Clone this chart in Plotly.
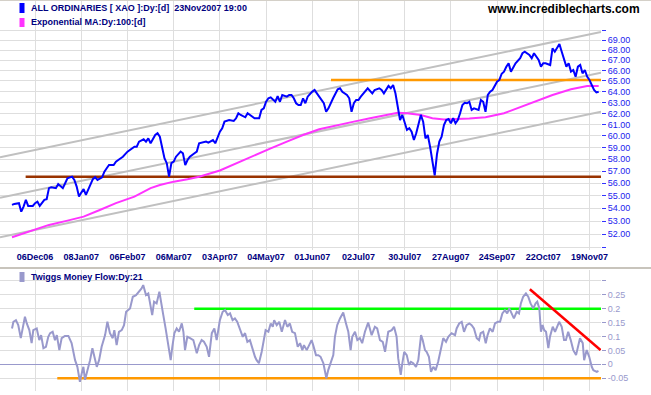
import plotly.graph_objects as go

# ---------------- data ----------------
# x axis = trading-day index; labelled every 20 trading days
tick_days = [10, 30, 50, 70, 90, 110, 130, 150, 170, 190, 210, 230, 250]
tick_labels = ["06Dec06", "08Jan07", "06Feb07", "06Mar07", "03Apr07", "04May07", "01Jun07",
               "02Jul07", "30Jul07", "27Aug07", "24Sep07", "22Oct07", "19Nov07"]

xao_day = [0, 1, 3, 4, 5, 6, 7, 9, 10, 11, 12, 14, 15, 16, 17, 19, 20, 22, 23, 24, 26, 27, 28, 29, 30,
           31, 32, 33, 34, 35, 36, 37, 39, 40, 41, 42, 44, 45, 46, 48, 50, 51, 53, 54, 55, 57, 58, 59,
           60, 62, 63, 64, 65, 66, 67, 68, 69, 70, 71, 73, 74, 75, 76, 77, 79, 80, 81, 84, 85, 87, 88,
           89, 90, 91, 92, 94, 96, 97, 98, 99, 101, 102, 104, 105, 107, 108, 109, 110, 111, 112, 114,
           115, 116, 117, 119, 120, 121, 122, 123, 124, 125, 126, 127, 128, 130, 131, 132, 133, 135,
           136, 137, 139, 141, 142, 143, 145, 146, 147, 148, 149, 150, 151, 153, 154, 156, 157, 159,
           160, 161, 163, 164, 165, 166, 167, 168, 169, 170, 171, 172, 173, 174, 175, 177, 178, 179,
           180, 181, 182, 183, 184, 185, 186, 187, 188, 189, 190, 191, 192, 193, 194, 195, 196, 197,
           198, 199, 200, 202, 203, 204, 205, 206, 207, 208, 210, 211, 212, 213, 214, 215, 216, 218,
           220, 221, 222, 224, 225, 226, 228, 229, 230, 231, 233, 234, 235, 236, 237, 238, 239, 240,
           241, 242, 243, 244, 245, 246, 247, 248, 249, 250, 251, 252, 253, 254]
xao_val = [54.26, 54.34, 54.40, 53.73, 54.13, 54.66, 54.18, 54.18, 54.40, 54.52, 54.18, 54.66, 54.71,
           55.60, 55.68, 55.60, 55.94, 55.60, 56.00, 56.41, 56.54, 56.27, 55.73, 54.92, 55.24, 55.52,
           55.06, 55.46, 55.86, 56.33, 56.49, 56.27, 56.49, 56.95, 57.24, 57.51, 57.51, 57.79, 57.93,
           58.21, 58.64, 58.78, 59.06, 59.06, 59.50, 59.70, 59.50, 59.79, 59.36, 60.08, 60.23, 59.93,
           58.92, 58.08, 57.66, 56.54, 57.66, 57.79, 58.21, 58.64, 58.50, 57.51, 57.93, 58.21, 58.50,
           58.64, 59.36, 59.50, 59.41, 59.64, 59.36, 59.93, 60.37, 60.67, 61.26, 61.41, 61.32, 61.56,
           62.01, 61.86, 61.65, 62.01, 61.71, 61.56, 61.56, 62.31, 62.46, 63.06, 63.38, 63.47, 63.06,
           63.59, 63.06, 63.69, 63.53, 63.69, 63.69, 63.38, 62.92, 62.76, 62.76, 63.38, 62.92, 63.53,
           64.00, 64.15, 63.84, 63.53, 62.92, 62.15, 62.46, 63.38, 64.22, 64.31, 63.99, 63.69, 63.38,
           62.15, 62.92, 63.22, 63.22, 63.53, 63.99, 64.31, 63.84, 64.15, 64.31, 64.15, 63.84, 64.53,
           64.31, 64.62, 63.84, 62.61, 61.41, 61.86, 61.26, 60.52, 60.67, 60.37, 59.64, 60.23, 61.86,
           61.26, 59.79, 60.08, 59.06, 57.66, 56.65, 58.44, 59.50, 59.93, 60.96, 61.41, 61.50, 61.12,
           61.56, 61.12, 61.41, 62.01, 62.76, 62.97, 62.92, 63.06, 62.31, 62.46, 62.31, 63.22, 63.06,
           62.15, 63.69, 63.99, 64.15, 64.93, 65.10, 65.69, 65.89, 66.36, 66.69, 65.89, 66.69, 67.19,
           67.68, 67.83, 67.51, 67.19, 67.68, 67.02, 66.37, 66.70, 66.70, 66.53, 68.17, 67.83, 68.17,
           68.60, 67.83, 67.02, 66.37, 66.70, 65.89, 66.05, 65.41, 66.37, 66.53, 65.73, 66.05, 65.41,
           65.10, 64.62, 64.15, 63.93, 63.99]

ema_day = [0, 9, 16, 24, 31, 38, 45, 53, 60, 64, 70, 76, 81, 90, 97, 104, 112, 119, 126, 133, 141,
           148, 155, 162, 167, 171, 177, 182, 187, 198, 205, 213, 220, 227, 234, 242, 249, 254]
ema_val = [51.76, 52.32, 52.70, 53.03, 53.34, 53.86, 54.40, 54.92, 55.60, 55.86, 56.13, 56.33, 56.54,
           57.05, 57.66, 58.21, 58.92, 59.50, 60.08, 60.58, 60.96, 61.26, 61.56, 61.86, 62.06, 62.01,
           61.86, 61.56, 61.45, 61.54, 61.65, 62.01, 62.55, 63.16, 63.69, 64.22, 64.53, 64.53]

tmf_day = [0.0, 0.6, 1.7, 2.7, 3.8, 4.6, 5.6, 6.4, 7.5, 8.5, 9.2, 10.7, 11.8, 12.6, 13.6, 14.7, 15.7,
           16.5, 17.6, 18.6, 19.4, 20.5, 21.5, 22.9, 24.4, 25.8, 27.3, 28.3, 29.4, 30.2, 30.9, 31.6,
           32.6, 33.8, 34.8, 35.6, 36.7, 37.7, 38.8, 40.3, 41.3, 42.4, 43.6, 44.3, 45.3, 46.3, 47.5,
           48.5, 49.4, 51.1, 52.3, 53.7, 55.1, 56.1, 56.8, 58.0, 59.0, 59.7, 60.7, 61.5, 62.6, 63.8,
           64.5, 65.5, 66.5, 67.7, 68.7, 69.4, 70.3, 71.3, 72.3, 73.5, 74.2, 74.9, 75.9, 77.1, 78.5,
           80.0, 81.0, 82.1, 83.1, 84.3, 85.3, 86.5, 87.6, 88.6, 90.0, 91.2, 92.2, 93.4, 94.4, 95.5,
           96.5, 97.5, 98.7, 99.9, 100.9, 101.9, 103.0, 104.0, 105.2, 105.9, 106.9, 108.1, 109.1,
           109.8, 111.0, 112.0, 112.9, 113.5, 114.6, 115.7, 116.8, 118.2, 119.2, 120.3, 121.3, 122.5,
           123.7, 124.7, 125.7, 126.4, 127.6, 128.7, 129.7, 130.4, 131.6, 132.6, 133.6, 134.8, 136.1,
           136.9, 137.7, 139.1, 139.8, 140.8, 142.0, 143.4, 144.6, 145.6, 146.6, 147.3, 148.5, 149.5,
           150.6, 151.6, 152.8, 154.2, 155.7, 157.1, 158.1, 159.3, 160.5, 161.5, 162.9, 164.4, 165.4,
           166.5, 167.2, 168.3, 169.0, 169.8, 170.9, 171.9, 172.7, 173.7, 174.9, 175.9, 177.1, 177.8,
           178.8, 179.5, 180.5, 181.4, 182.4, 183.4, 184.5, 185.6, 186.7, 187.9, 188.9, 190.3, 191.8,
           192.5, 193.6, 194.7, 195.7, 196.8, 198.0, 199.0, 200.0, 201.2, 202.2, 202.9, 204.0, 205.1,
           205.9, 206.9, 208.1, 209.1, 210.3, 211.3, 212.3, 213.4, 214.4, 215.3, 216.3, 217.3, 218.5,
           219.5, 220.3, 221.3, 222.5, 223.5, 224.5, 225.7, 226.7, 227.4, 228.3, 229.0, 229.7, 230.4,
           231.2, 232.2, 232.9, 234.1, 235.1, 236.1, 236.9, 238.0, 239.0, 239.8, 240.8, 241.9, 243.0,
           244.2, 245.2, 245.9, 247.1, 247.7, 248.8, 249.9, 251.0, 251.7, 253.2, 253.9]
tmf_val = [0.129, 0.153, 0.159, 0.141, 0.094, 0.129, 0.171, 0.147, 0.123, 0.076, 0.123, 0.129, 0.087,
           0.105, 0.058, 0.063, 0.099, 0.112, 0.117, 0.087, 0.105, 0.051, 0.094, 0.102, 0.102, 0.076,
           0.015, -0.009, -0.063, -0.032, -0.009, -0.056, -0.027, 0.015, 0.058, 0.033, -0.009, 0.015,
           0.063, 0.105, 0.153, 0.112, 0.094, 0.123, 0.069, 0.117, 0.123, 0.141, 0.189, 0.201, 0.243,
           0.249, 0.261, 0.273, 0.285, 0.249, 0.255, 0.219, 0.177, 0.225, 0.219, 0.261, 0.219, 0.177,
           0.129, 0.063, 0.015, 0.063, 0.112, 0.129, 0.117, 0.147, 0.117, 0.051, 0.099, 0.094, 0.087,
           0.040, 0.069, 0.087, 0.081, 0.063, 0.027, 0.112, 0.129, 0.087, 0.159, 0.189, 0.195, 0.177,
           0.183, 0.159, 0.165, 0.153, 0.129, 0.099, 0.112, 0.081, 0.087, 0.058, 0.027, 0.015, 0.004,
           0.045, 0.087, 0.123, 0.117, 0.147, 0.135, 0.159, 0.141, 0.153, 0.117, 0.159, 0.135, 0.147,
           0.117, 0.112, 0.063, 0.076, 0.051, 0.069, 0.051, 0.069, 0.087, 0.069, 0.033, 0.033, 0.027,
           0.004, -0.050, -0.021, -0.003, 0.033, 0.099, 0.141, 0.165, 0.186, 0.147, 0.117, 0.051, 0.099,
           0.117, 0.087, 0.094, 0.076, 0.117, 0.150, 0.105, 0.135, 0.129, 0.087, 0.081, 0.045, 0.117,
           0.123, 0.135, 0.099, 0.022, -0.038, 0.004, 0.045, 0.033, -0.003, 0.009, 0.004, -0.009, 0.015,
           0.105, 0.087, 0.051, 0.045, 0.027, -0.027, -0.009, -0.021, 0.009, 0.051, 0.094, 0.081, 0.099,
           0.112, 0.105, 0.129, 0.147, 0.153, 0.117, 0.141, 0.147, 0.141, 0.129, 0.094, 0.087, 0.112,
           0.117, 0.076, 0.105, 0.129, 0.117, 0.147, 0.153, 0.153, 0.183, 0.195, 0.183, 0.201, 0.183,
           0.165, 0.189, 0.183, 0.219, 0.243, 0.255, 0.243, 0.219, 0.201, 0.219, 0.225, 0.201, 0.117,
           0.141, 0.123, 0.117, 0.058, 0.099, 0.135, 0.117, 0.135, 0.153, 0.135, 0.087, 0.087, 0.117,
           0.087, 0.051, 0.033, 0.069, 0.094, 0.076, 0.015, 0.051, 0.027, -0.009, -0.021, -0.027, -0.024]

# trend channel (parallel lines on the log scale)
channel_day = [-5.2, 255.0]
channel_upper = [58.16, 69.81]
channel_middle = [54.83, 65.79]
channel_lower = [51.76, 62.14]

support_day = [5.9, 255.0]
support_level = 56.53
resistance_day = [138.1, 255.0]
resistance_level = 65.10

tmf_high_day = [78.9, 255.0]
tmf_high_level = 0.2
tmf_low_day = [19.6, 255.0]
tmf_low_level = -0.05
tmf_trend_day = [224.2, 254.8]
tmf_trend_val = [0.27, 0.051]

price_ticks = list(range(51, 71))
tmf_ticks = [-0.05, 0, 0.05, 0.1, 0.15, 0.2, 0.25, 0.3]
tmf_tick_text = ["-0.05", "0", "0.05", "0.1", "0.15", "0.2", "0.25", ""]

# ---------------- figure ----------------
W, H = 651, 395
PLOT_RIGHT = 601
FONT = "Liberation Sans, Arial, sans-serif"


def px_x(px):
    return px / PLOT_RIGHT


def px_y(py):
    return 1 - py / H


fig = go.Figure()


def line(x, y, color, width, xa="x", ya="y"):
    fig.add_trace(go.Scatter(x=x, y=y, mode="lines", line=dict(color=color, width=width),
                             xaxis=xa, yaxis=ya, hoverinfo="skip", showlegend=False))


# top panel
for ch in (channel_upper, channel_middle, channel_lower):
    line(channel_day, ch, "#c0c0c0", 2)
line(support_day, [support_level] * 2, "#993300", 2.5)
line(resistance_day, [resistance_level] * 2, "#ff9900", 2.5)
line(ema_day, ema_val, "#ff33ff", 2)
line(xao_day, xao_val, "#0000ff", 2)

# bottom panel
line(tmf_high_day, [tmf_high_level] * 2, "#00ff00", 2.5, "x2", "y2")
line(tmf_low_day, [tmf_low_level] * 2, "#ff9900", 2.5, "x2", "y2")
line(tmf_day, tmf_val, "#9999cc", 2, "x2", "y2")
line(tmf_trend_day, tmf_trend_val, "#ff0000", 2.5, "x2", "y2")

grid = "#dedede"
xcommon = dict(domain=[0, 1], range=[-5.2, 255.0], tickvals=tick_days, showgrid=True,
               gridcolor=grid, gridwidth=1, zeroline=False, showline=False, ticks="",
               automargin=False)

fig.update_layout(
    width=W, height=H,
    margin=dict(l=0, r=W - PLOT_RIGHT, t=0, b=0, pad=0, autoexpand=False),
    paper_bgcolor="white", plot_bgcolor="white", showlegend=False,
    xaxis=dict(**xcommon, anchor="y", ticktext=tick_labels,
               tickfont=dict(family=FONT, size=9, color="#000080", weight="bold")),
    yaxis=dict(domain=[px_y(250), px_y(1)], type="log", range=[1.70594, 1.86353], side="right",
               anchor="x", tickvals=price_ticks, automargin=False,
               ticktext=["" if v in (51, 70) else f"{v}.00" for v in price_ticks],
               showgrid=True, gridcolor=grid, gridwidth=1, zeroline=False, showline=False,
               ticks="outside", ticklen=4, tickcolor="#3333ff",
               tickfont=dict(family=FONT, size=9, color="#2222ee")),
    xaxis2=dict(**xcommon, anchor="y2", showticklabels=False),
    yaxis2=dict(domain=[px_y(391), px_y(270)], range=[(364.3 - 391) / 278, (364.3 - 270) / 278],
                side="right", anchor="x2", tickvals=tmf_ticks, ticktext=tmf_tick_text,
                automargin=False, showgrid=True, gridcolor=grid, gridwidth=1,
                zeroline=True, zerolinecolor="#9999cc", zerolinewidth=1, showline=False,
                ticks="outside", ticklen=4, tickcolor="#9999cc",
                tickfont=dict(family=FONT, size=9, color="#9999cc")),
)

shapes = []
# frame separators
shapes.append(dict(type="line", xref="paper", yref="paper", x0=0, x1=W / PLOT_RIGHT,
                   y0=px_y(268), y1=px_y(268), line=dict(color="#c8c4bc", width=2)))
shapes.append(dict(type="line", xref="paper", yref="paper", x0=0, x1=W / PLOT_RIGHT,
                   y0=px_y(0.5), y1=px_y(0.5), line=dict(color="#d4d0c8", width=1)))
# legend swatches
for top, bot, col in ((3, 13, "#0000ff"), (18, 27, "#ff33ff"), (272, 282, "#9999cc")):
    shapes.append(dict(type="rect", xref="paper", yref="paper", x0=px_x(19.5), x1=px_x(24.5),
                       y0=px_y(bot), y1=px_y(top), fillcolor=col, line=dict(width=0)))
fig.update_layout(shapes=shapes)

ann_font = dict(family=FONT, size=9, color="#000080", weight="bold")
annotations = [
    dict(text="ALL ORDINARIES [ XAO ]:Dy:[d]&nbsp;&nbsp;23Nov2007 19:00", x=px_x(29), y=px_y(8)),
    dict(text="Exponential MA:Dy:100:[d]", x=px_x(29), y=px_y(22.5)),
    dict(text="Twiggs Money Flow:Dy:21", x=px_x(29), y=px_y(277)),
]
for a in annotations:
    a.update(xref="paper", yref="paper", xanchor="left", yanchor="middle", showarrow=False,
             font=ann_font)
annotations.append(dict(text="www.incrediblecharts.com", xref="paper", yref="paper",
                        x=px_x(642), y=px_y(8.5), xanchor="right", yanchor="middle",
                        showarrow=False,
                        font=dict(family=FONT, size=12, color="black", weight="bold")))
fig.update_layout(annotations=annotations)

fig.write_html("out.html", config={"displayModeBar": False, "staticPlot": True},
               post_script="document.body.style.margin='0px';document.body.style.overflow='hidden';")
